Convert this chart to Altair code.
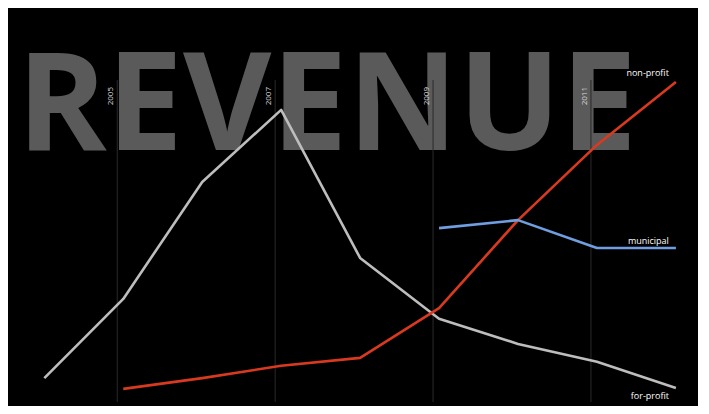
import altair as alt
import pandas as pd

# ---- data ----
title_text = ["REVENUE"]
grid_years = [2005, 2007, 2009, 2011]

years_for_profit = [2004, 2005, 2006, 2007, 2008, 2009, 2010, 2011, 2012]
for_profit = [7.0, 26.9, 56.3, 74.4, 37.2, 21.9, 15.6, 11.1, 4.5]

years_non_profit = [2005, 2006, 2007, 2008, 2009, 2010, 2011, 2012]
non_profit = [4.3, 7.0, 10.1, 12.1, 24.6, 46.7, 65.6, 81.4]

years_municipal = [2009, 2010, 2011, 2012]
municipal = [44.7, 46.7, 39.7, 39.7]

series_names = ["for-profit", "non-profit", "municipal"]
series_colors = ["#bdbdbd", "#d93a1f", "#6f9fe0"]

rows = []
for n, ys, vs in [("for-profit", years_for_profit, for_profit),
                  ("non-profit", years_non_profit, non_profit),
                  ("municipal", years_municipal, municipal)]:
    for y, v in zip(ys, vs):
        rows.append({"series": n, "year": y, "value": v})
df = pd.DataFrame(rows)
grid_df = pd.DataFrame({"year": grid_years, "label": [str(y) for y in grid_years]})
title_df = pd.DataFrame({"t": title_text})

W, H = 690, 398
xscale = alt.Scale(domain=[2003.54, 2012.28], nice=False, zero=False)
yscale = alt.Scale(domain=[0, 100], nice=False, zero=False)
cscale = alt.Scale(domain=series_names, range=series_colors)

big = alt.Chart(title_df).mark_text(
    font="Open Sans", fontWeight="bold", fontSize=136, color="#5a5a5a",
    align="left", baseline="alphabetic"
).encode(text="t:N", x=alt.value(9), y=alt.value(142))

rules = alt.Chart(grid_df).mark_rule(color="#2a2a2a", strokeWidth=1, xOffset=-6).encode(
    x=alt.X("year:Q", scale=xscale, axis=None),
    y=alt.value(72), y2=alt.value(394)
)

year_labels = alt.Chart(grid_df).mark_text(
    font="Open Sans", fontSize=8, color="#dddddd", angle=270,
    align="right", baseline="bottom", xOffset=-8
).encode(
    x=alt.X("year:Q", scale=xscale, axis=None),
    y=alt.value(79), text="label:N"
)

lines = alt.Chart(df).mark_line(strokeWidth=2.6, strokeJoin="round").encode(
    x=alt.X("year:Q", scale=xscale, axis=None),
    y=alt.Y("value:Q", scale=yscale, axis=None),
    color=alt.Color("series:N", scale=cscale, legend=None),
    detail="series:N"
)

label_layers = []
for n, dy in [("non-profit", -9), ("municipal", -7), ("for-profit", 8)]:
    last = df[df.series == n].sort_values("year").tail(1)
    label_layers.append(
        alt.Chart(last).mark_text(
            font="Open Sans", fontSize=9, color="white", align="right",
            baseline="middle", dx=-7, dy=dy
        ).encode(
            x=alt.X("year:Q", scale=xscale, axis=None),
            y=alt.Y("value:Q", scale=yscale, axis=None),
            text="series:N"
        )
    )

chart = alt.layer(big, rules, year_labels, lines, *label_layers).properties(
    width=W, height=H, background="black", padding=0
).configure_view(stroke=None)

chart.save("out.html", embed_options={"renderer": "svg", "actions": False})
